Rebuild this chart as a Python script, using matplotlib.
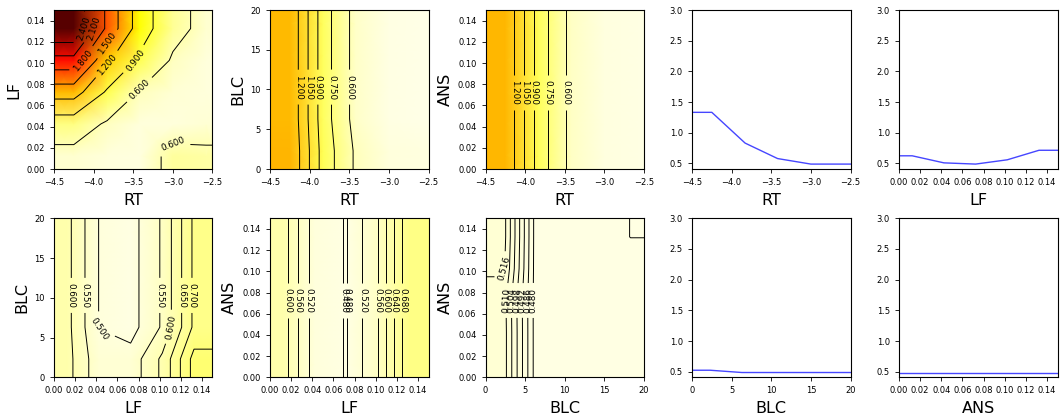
import numpy as np
import matplotlib
matplotlib.use('Agg')
import matplotlib.pyplot as plt
from matplotlib.colors import Normalize
from matplotlib.ticker import MultipleLocator

# grid points of the partial dependence (flat outside the grid)
rt_grid = [-4.25, -3.83, -3.42, -3.0, -2.58]
lf_grid = [0.0125, 0.0425, 0.0725, 0.1025, 0.1325]
blc_grid = [2.3, 6.3, 10.3, 14.3, 18.3]
ans_grid = [0.0125, 0.0425, 0.0725, 0.1025, 0.1325]

# 2D partial dependence: rows = y feature, cols = x feature
pd_rt_lf = [
    [0.53, 0.50, 0.49, 0.66, 0.64],
    [0.73, 0.57, 0.50, 0.50, 0.52],
    [1.33, 0.86, 0.58, 0.52, 0.50],
    [2.00, 1.25, 0.85, 0.57, 0.50],
    [2.70, 1.73, 1.05, 0.68, 0.53],
]
pd_rt_blc = [
    [1.35, 0.84, 0.58, 0.50, 0.49],
    [1.33, 0.82, 0.55, 0.48, 0.47],
    [1.33, 0.82, 0.55, 0.48, 0.47],
    [1.33, 0.82, 0.55, 0.48, 0.47],
    [1.33, 0.82, 0.55, 0.48, 0.47],
]
pd_rt_ans = [
    [1.34, 0.83, 0.56, 0.49, 0.48],
    [1.34, 0.83, 0.56, 0.49, 0.48],
    [1.34, 0.83, 0.56, 0.49, 0.48],
    [1.34, 0.83, 0.56, 0.49, 0.48],
    [1.34, 0.83, 0.56, 0.49, 0.48],
]
pd_lf_blc = [
    [0.618, 0.518, 0.520, 0.610, 0.768],
    [0.615, 0.499, 0.480, 0.556, 0.710],
    [0.615, 0.499, 0.480, 0.556, 0.710],
    [0.615, 0.499, 0.480, 0.556, 0.710],
    [0.615, 0.499, 0.480, 0.556, 0.710],
]
pd_lf_ans = [
    [0.616, 0.498, 0.478, 0.562, 0.717],
    [0.616, 0.498, 0.478, 0.562, 0.717],
    [0.616, 0.498, 0.478, 0.562, 0.717],
    [0.616, 0.498, 0.478, 0.562, 0.717],
    [0.616, 0.498, 0.478, 0.562, 0.717],
]
pd_blc_ans = [
    [0.5130, 0.4775, 0.4780, 0.4785, 0.4788],
    [0.5130, 0.4775, 0.4780, 0.4785, 0.4788],
    [0.5125, 0.4775, 0.4780, 0.4785, 0.4788],
    [0.5172, 0.4776, 0.4781, 0.4786, 0.4790],
    [0.5185, 0.4777, 0.4782, 0.4790, 0.48003],
]

# 1D partial dependence
pd_rt = [1.333, 0.832, 0.58, 0.49, 0.49]
pd_lf = [0.625, 0.51, 0.49, 0.56, 0.715]
pd_blc = [0.525, 0.488, 0.488, 0.488, 0.488]
pd_ans = [0.488, 0.488, 0.488, 0.488, 0.488]

lims = {'RT': (-4.5, -2.5), 'LF': (0.0, 0.15), 'BLC': (0, 20), 'ANS': (0.0, 0.15)}
grids = {'RT': rt_grid, 'LF': lf_grid, 'BLC': blc_grid, 'ANS': ans_grid}
steps = {'RT': 0.5, 'LF': 0.02, 'BLC': 5, 'ANS': 0.02}

W, H, DPI = 1063, 415, 100
fig = plt.figure(figsize=(W / DPI, H / DPI), dpi=DPI)
norm = Normalize(vmin=0.40, vmax=3.0)

lefts = [54, 270, 485.5, 692, 899]
tops = [10, 218.3]
aw, ah = 158.5, 159


def make_ax(row, col):
    l = lefts[col] / W
    b = 1 - (tops[row] + ah) / H
    return fig.add_axes([l, b, aw / W, ah / H])


def edge(name, g):
    return [lims[name][0]] + list(g) + [lims[name][1]]


def style(ax, xn):
    ax.set_xlim(lims[xn])
    ax.xaxis.set_major_locator(MultipleLocator(steps[xn]))
    ax.tick_params(labelsize=6, length=3, width=0.6)
    ax.set_xlabel(xn, fontsize=11.5)
    for s in ax.spines.values():
        s.set_linewidth(0.8)


def contour_panel(row, col, xn, yn, z, levels):
    ax = make_ax(row, col)
    xs = edge(xn, grids[xn])
    ys = edge(yn, grids[yn])
    zz = np.pad(np.array(z), 1, mode='edge')
    ax.pcolormesh(xs, ys, zz, cmap='hot_r', norm=norm, shading='gouraud')
    cs = ax.contour(xs, ys, zz, levels=levels, colors='k', linewidths=0.7)
    ax.clabel(cs, fmt='%.3f', fontsize=6.3, inline=True)
    style(ax, xn)
    ax.set_ylim(lims[yn])
    ax.yaxis.set_major_locator(MultipleLocator(steps[yn]))
    ax.set_ylabel(yn, fontsize=11.5)


def line_panel(row, col, xn, vals):
    ax = make_ax(row, col)
    ax.plot(edge(xn, grids[xn]), [vals[0]] + vals + [vals[-1]], color='#4646ff', lw=1)
    style(ax, xn)
    ax.set_ylim(0.41, 3.0)
    ax.yaxis.set_major_locator(MultipleLocator(0.5))


contour_panel(0, 0, 'RT', 'LF', pd_rt_lf, [0.6, 0.9, 1.2, 1.5, 1.8, 2.1, 2.4])
contour_panel(0, 1, 'RT', 'BLC', pd_rt_blc, [0.6, 0.75, 0.9, 1.05, 1.2])
contour_panel(0, 2, 'RT', 'ANS', pd_rt_ans, [0.6, 0.75, 0.9, 1.05, 1.2])
line_panel(0, 3, 'RT', pd_rt)
line_panel(0, 4, 'LF', pd_lf)

contour_panel(1, 0, 'LF', 'BLC', pd_lf_blc, [0.5, 0.55, 0.6, 0.65, 0.7, 0.75])
contour_panel(1, 1, 'LF', 'ANS', pd_lf_ans, [0.48, 0.52, 0.56, 0.6, 0.64, 0.68])
contour_panel(1, 2, 'BLC', 'ANS', pd_blc_ans, [0.48, 0.486, 0.492, 0.498, 0.504, 0.51, 0.516])
line_panel(1, 3, 'BLC', pd_blc)
line_panel(1, 4, 'ANS', pd_ans)

fig.savefig('out.png', dpi=DPI)
